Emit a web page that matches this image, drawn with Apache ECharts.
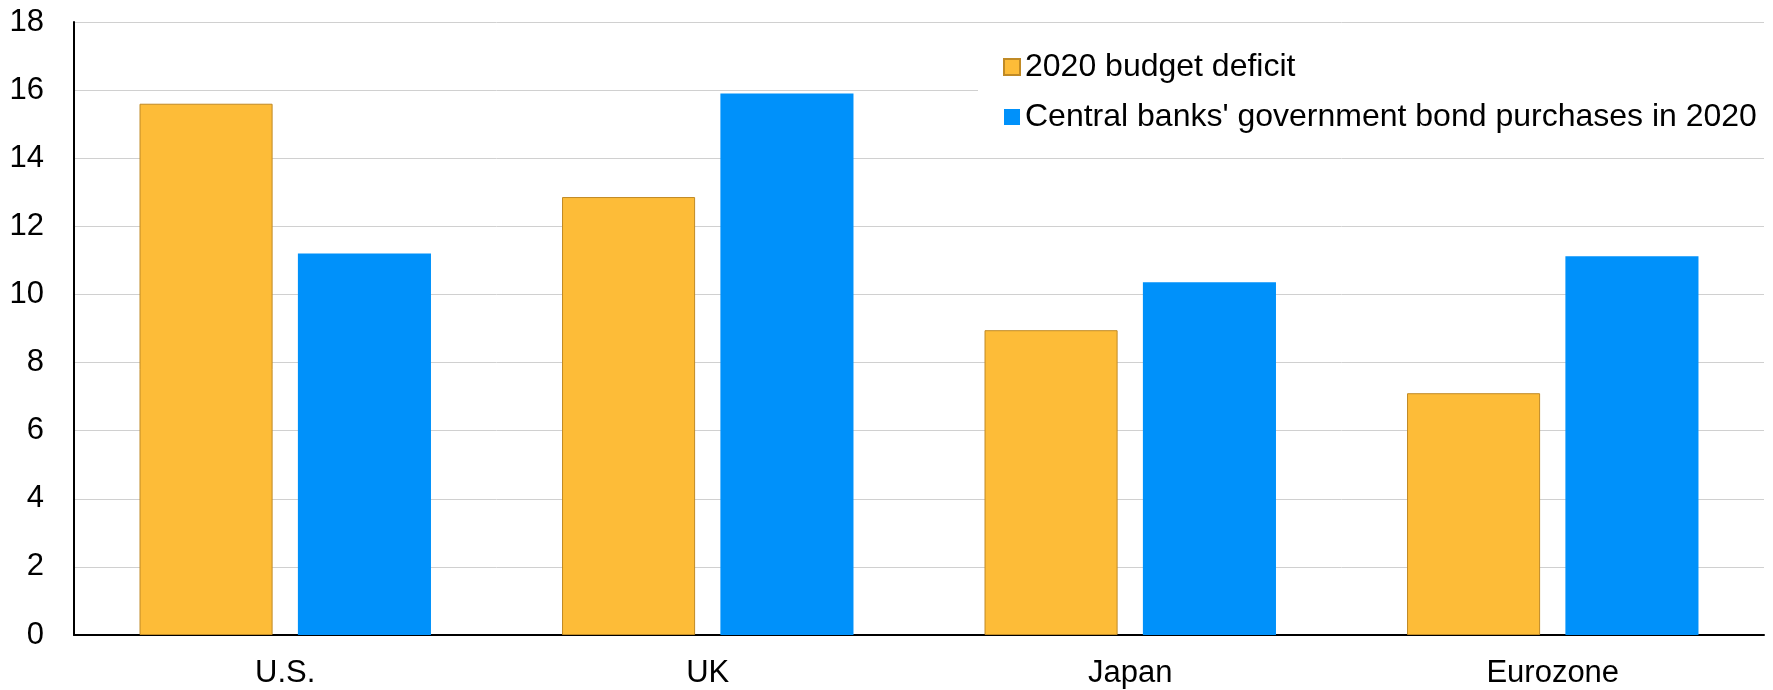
<!DOCTYPE html>
<html>
<head>
<meta charset="utf-8">
<script src="https://cdn.jsdelivr.net/npm/echarts@6/dist/echarts.min.js"></script>
<style>
html,body{margin:0;padding:0;background:#fff;}
#chart{width:1773px;height:690px;}
</style>
</head>
<body>
<div id="chart"></div>
<script>
const categories = ['U.S.', 'UK', 'Japan', 'Eurozone'];
const seriesNames = ['2020 budget deficit', "Central banks' government bond purchases in 2020"];
const budgetDeficit = [15.6, 12.86, 8.95, 7.1];
const bondPurchases = [11.2, 15.9, 10.36, 11.12];
const yTicks = { min: 0, max: 18, interval: 2 };

const chart = echarts.init(document.getElementById('chart'), null, { renderer: 'canvas' });
const font = 'Liberation Sans, Arial, sans-serif';
chart.setOption({
  animation: false,
  backgroundColor: '#ffffff',
  textStyle: { fontFamily: font },
  grid: { left: 74, right: 9, top: 22, bottom: 55, containLabel: false },
  legend: {
    orient: 'vertical',
    left: 978,
    top: 36,
    padding: [15, 12, 15, 25],
    backgroundColor: '#ffffff',
    itemWidth: 16,
    itemHeight: 16,
    itemGap: 18,
    icon: 'rect',
    textStyle: { fontSize: 32, color: '#000', fontFamily: font },
    data: seriesNames
  },
  xAxis: {
    type: 'category',
    data: categories,
    axisLine: { lineStyle: { color: '#000', width: 2 } },
    axisTick: { show: false },
    axisLabel: { fontSize: 31, color: '#000', margin: 23, fontFamily: font },
    splitLine: { show: false }
  },
  yAxis: {
    type: 'value',
    min: yTicks.min,
    max: yTicks.max,
    interval: yTicks.interval,
    axisLine: { show: true, lineStyle: { color: '#000', width: 2 } },
    axisTick: { show: false },
    axisLabel: { fontSize: 31, color: '#000', margin: 30, fontFamily: font },
    splitLine: { lineStyle: { color: '#d0d0d0', width: 1 } }
  },
  series: [
    {
      name: seriesNames[0],
      type: 'bar',
      data: budgetDeficit,
      barWidth: '31.5%',
      barGap: '19%',
      itemStyle: { color: '#FDBC38', borderColor: '#C08A25', borderWidth: 1 }
    },
    {
      name: seriesNames[1],
      type: 'bar',
      data: bondPurchases,
      barWidth: '31.5%',
      barGap: '19%',
      itemStyle: { color: '#0091FA' }
    }
  ]
});
</script>
</body>
</html>
